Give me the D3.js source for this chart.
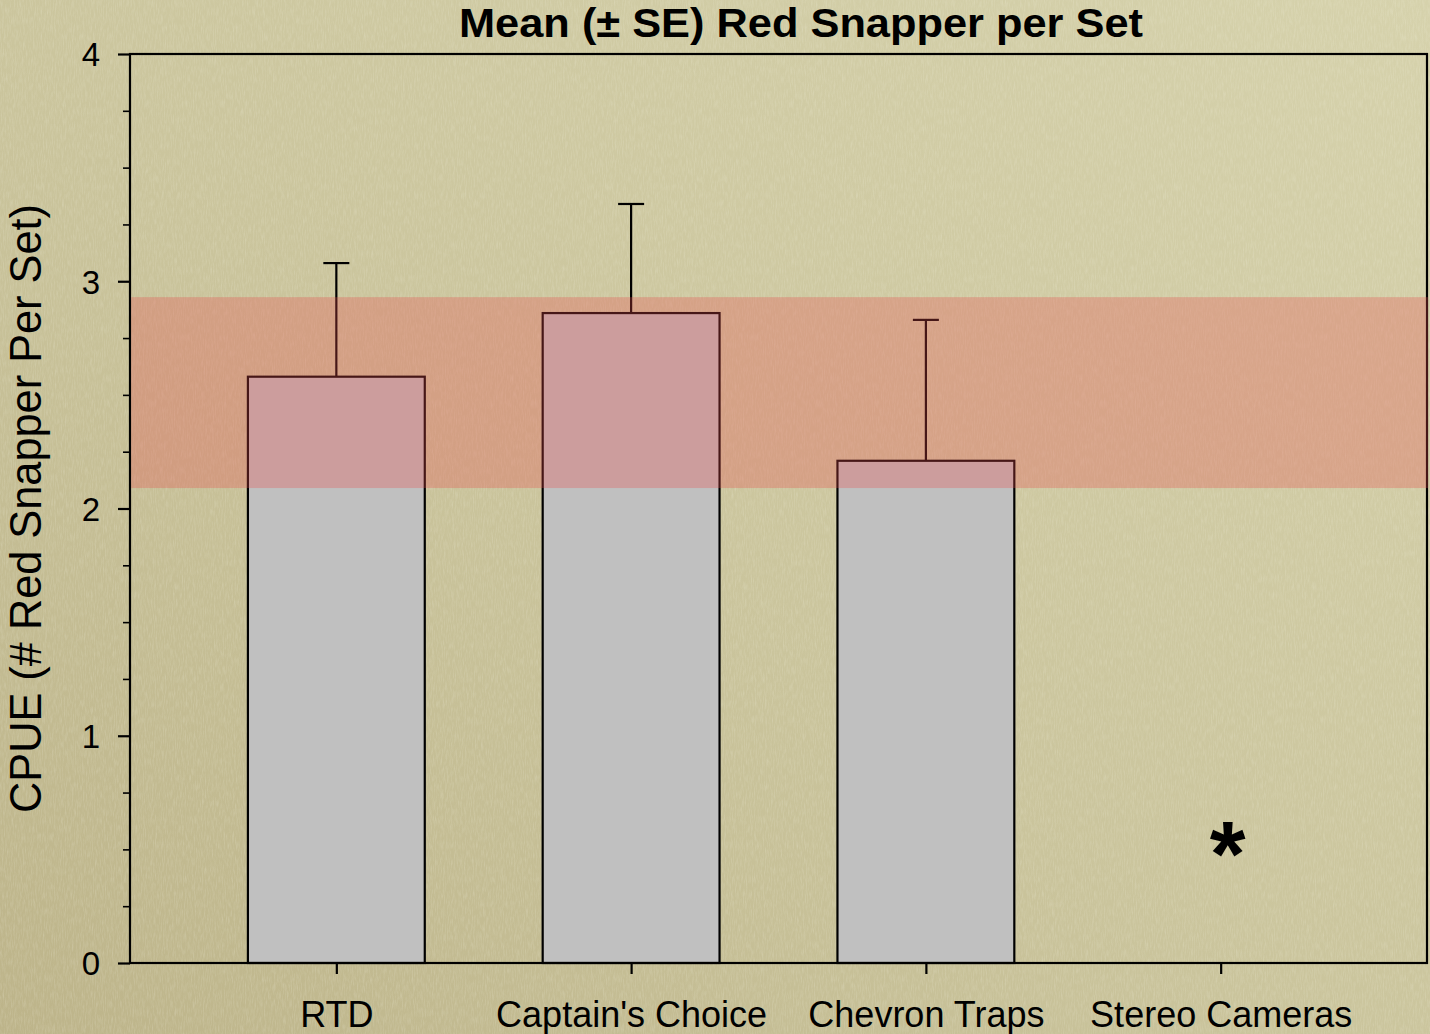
<!DOCTYPE html>
<html>
<head>
<meta charset="utf-8">
<script src="https://cdn.jsdelivr.net/npm/d3@7"></script>
<style>
  html, body { margin: 0; padding: 0; background: #cbc59d; }
  svg { display: block; }
  text { font-family: "Liberation Sans", Arial, sans-serif; fill: #000; }
</style>
</head>
<body>
<svg id="chart" width="1430" height="1034"></svg>
<script>
// Catch per unit effort by gear type
const categories = ["RTD", "Captain's Choice", "Chevron Traps", "Stereo Cameras"];
const means      = [2.58, 2.86, 2.21, null];
const stdErrors  = [0.50, 0.48, 0.62, null];
const yTicks     = [0, 1, 2, 3, 4];
const yMinorTicks = [0.25, 0.5, 0.75, 1.25, 1.5, 1.75, 2.25, 2.5, 2.75, 3.25, 3.5, 3.75];
const highlightRange = [2.09, 2.93];
const noteCategory = "Stereo Cameras";
const noteValue = 0.56;
const noteText = "*";
const titleText = "Mean (\u00b1 SE) Red Snapper per Set";
const yTitleText = "CPUE (# Red Snapper Per Set)";

const W = 1430, H = 1034;
const plot = { left: 130, right: 1427, top: 54, bottom: 963 };

const svg = d3.select("#chart");
const defs = svg.append("defs");

// parchment background
const grad = defs.append("linearGradient").attr("id", "paper")
  .attr("x1", "0").attr("y1", "1").attr("x2", "1").attr("y2", "0");
grad.append("stop").attr("offset", "0").attr("stop-color", "#bdb48a");
grad.append("stop").attr("offset", "0.45").attr("stop-color", "#cac49c");
grad.append("stop").attr("offset", "1").attr("stop-color", "#d6d2ac");

const grain = defs.append("filter").attr("id", "grain")
  .attr("x", 0).attr("y", 0).attr("width", "100%").attr("height", "100%");
grain.append("feTurbulence").attr("type", "fractalNoise")
  .attr("baseFrequency", "0.9 0.12").attr("numOctaves", 3).attr("seed", 7).attr("result", "n");
grain.append("feColorMatrix").attr("type", "matrix")
  .attr("values", "0 0 0 0 1  0 0 0 0 1  0 0 0 0 0.9  0 0 0 0.9 -0.35");

svg.append("rect").attr("width", W).attr("height", H).attr("fill", "url(#paper)");
svg.append("rect").attr("width", W).attr("height", H)
  .attr("filter", "url(#grain)").attr("opacity", 0.35);

// scales
const x = d3.scalePoint().domain(categories).range([plot.left, plot.right]).padding(0.7);
const y = d3.scaleLinear().domain([0, 4]).range([plot.bottom, plot.top]);
const barW = x.step() * 0.6;

const rows = categories.map((c, i) => ({ cat: c, mean: means[i], se: stdErrors[i] }));
const withBars = rows.filter(d => d.mean != null);

// bars
svg.append("g").selectAll("rect").data(withBars).join("rect")
  .attr("x", d => x(d.cat) - barW / 2)
  .attr("y", d => y(d.mean))
  .attr("width", barW)
  .attr("height", d => y(0) - y(d.mean))
  .attr("fill", "#c0c0c0")
  .attr("stroke", "#000")
  .attr("stroke-width", 2.2);

// error bars (upper only)
const eb = svg.append("g").attr("stroke", "#000").attr("stroke-width", 2.2);
eb.selectAll("line.v").data(withBars).join("line").attr("class", "v")
  .attr("x1", d => x(d.cat)).attr("x2", d => x(d.cat))
  .attr("y1", d => y(d.mean)).attr("y2", d => y(d.mean + d.se));
eb.selectAll("line.c").data(withBars).join("line").attr("class", "c")
  .attr("x1", d => x(d.cat) - 13).attr("x2", d => x(d.cat) + 13)
  .attr("y1", d => y(d.mean + d.se)).attr("y2", d => y(d.mean + d.se));

// plot frame
svg.append("rect")
  .attr("x", plot.left).attr("y", plot.top)
  .attr("width", plot.right - plot.left).attr("height", plot.bottom - plot.top)
  .attr("fill", "none").attr("stroke", "#000").attr("stroke-width", 2.2);

// y axis
const yAxis = svg.append("g").attr("transform", `translate(${plot.left},0)`)
  .call(d3.axisLeft(y).tickValues(yTicks).tickFormat(d3.format("d")).tickSize(12).tickPadding(18));
yAxis.select(".domain").remove();
yAxis.selectAll(".tick line").attr("stroke-width", 2.2);
yAxis.selectAll(".tick text").style("font-size", "33px").attr("dy", "0.36em");

const yMinor = svg.append("g").attr("transform", `translate(${plot.left},0)`)
  .call(d3.axisLeft(y).tickValues(yMinorTicks).tickFormat("").tickSize(7));
yMinor.select(".domain").remove();
yMinor.selectAll(".tick line").attr("stroke-width", 1.6);

// x axis
const xAxis = svg.append("g").attr("transform", `translate(0,${plot.bottom})`)
  .call(d3.axisBottom(x).tickSize(11).tickPadding(27));
xAxis.select(".domain").remove();
xAxis.selectAll(".tick line").attr("stroke-width", 2.2);
xAxis.selectAll(".tick text").style("font-size", "36px").attr("dy", "0.71em");

// highlighted range band
svg.append("rect")
  .attr("x", plot.left + 1.1)
  .attr("y", y(highlightRange[1]))
  .attr("width", plot.right - plot.left)
  .attr("height", y(highlightRange[0]) - y(highlightRange[1]))
  .attr("fill", "rgb(232,76,76)")
  .attr("opacity", 0.3);

// annotation marker
svg.append("text")
  .attr("x", x(noteCategory) + 7)
  .attr("y", y(noteValue))
  .attr("dy", "0.55em")
  .attr("text-anchor", "middle")
  .style("font-size", "92px").style("font-weight", "bold")
  .text(noteText);

// title
svg.append("text")
  .attr("x", 801).attr("y", 37)
  .attr("text-anchor", "middle")
  .style("font-size", "41px").style("font-weight", "bold")
  .attr("textLength", 684).attr("lengthAdjust", "spacingAndGlyphs")
  .text(titleText);

// y axis title
svg.append("text")
  .attr("transform", `translate(41,${(plot.top + plot.bottom) / 2}) rotate(-90)`)
  .attr("text-anchor", "middle")
  .style("font-size", "44px")
  .attr("textLength", 609).attr("lengthAdjust", "spacingAndGlyphs")
  .text(yTitleText);
</script>
</body>
</html>
